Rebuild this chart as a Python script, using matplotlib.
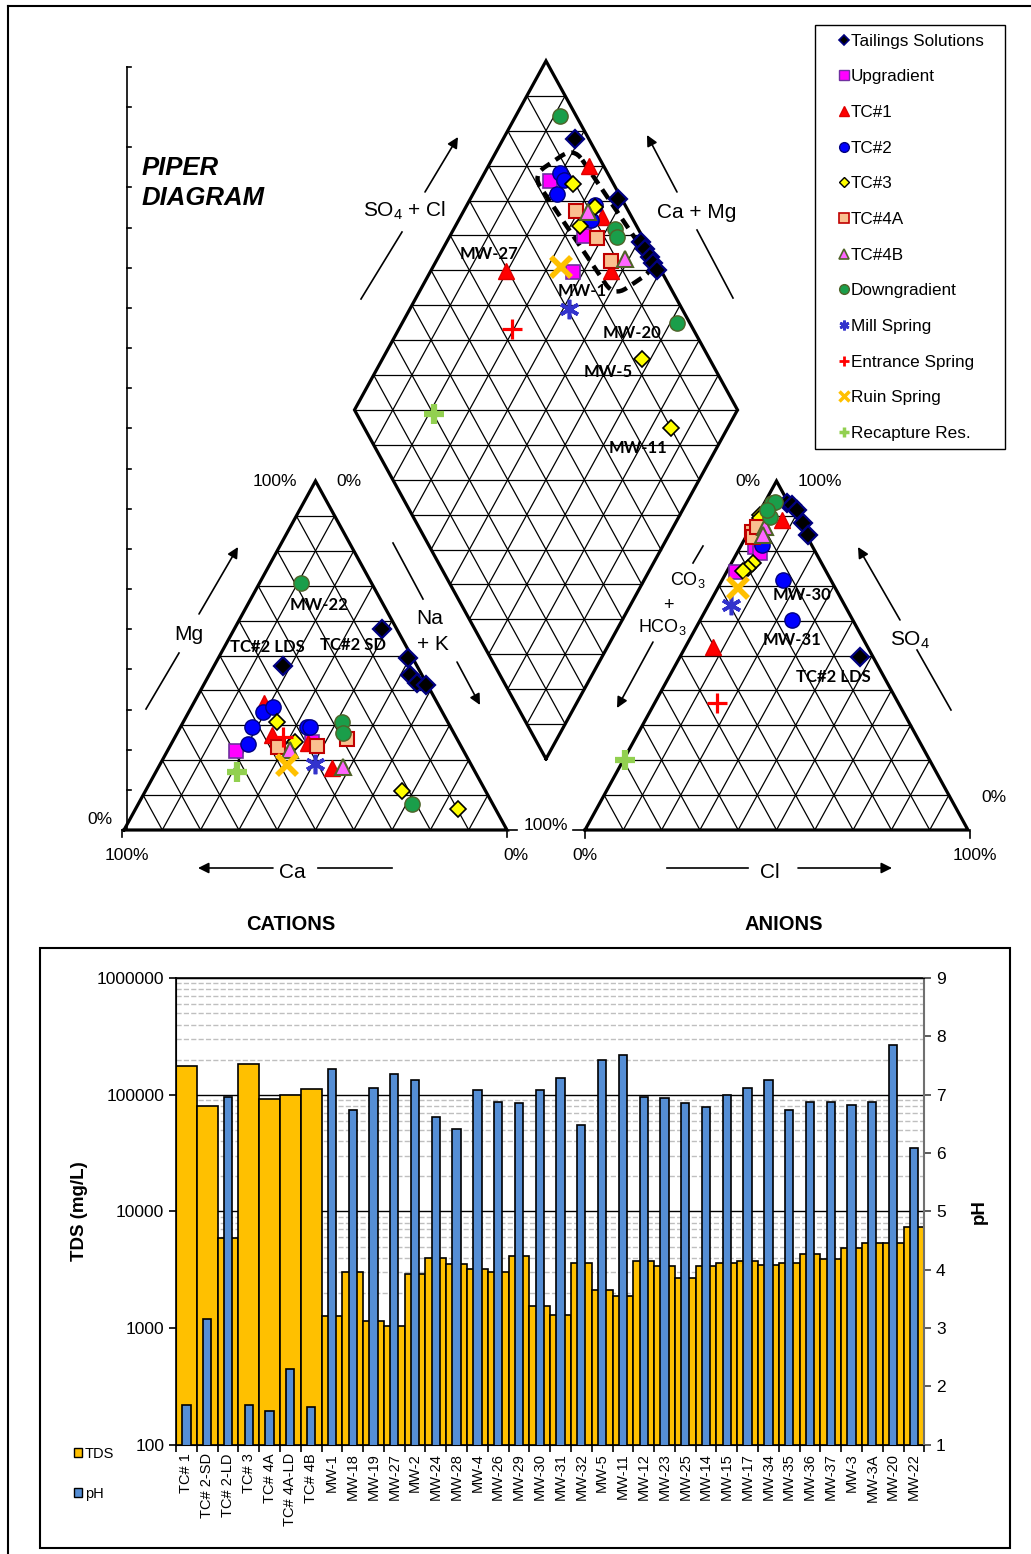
import numpy as np
import matplotlib.pyplot as plt
from matplotlib.lines import Line2D
from matplotlib.patches import FancyBboxPatch, Rectangle, Patch
from matplotlib.transforms import Affine2D
from matplotlib.ticker import FixedLocator, FuncFormatter, LogLocator, NullFormatter

plt.rcParams['font.family'] = ['Liberation Sans', 'DejaVu Sans']
plt.rcParams['mathtext.default'] = 'regular'

#%% piper data, % of meq/L
# cation triangle: (Ca, Mg), Na+K is the rest
tailings_cat = [(3.8, 57.6), (34.9, 47.0), (1.3, 49.2), (3.1, 44.4), (2.6, 42.0), (0.4, 41.5)]
upgrad_cat = [(59.3, 22.7), (38.3, 25.3)]
tc1_cat = [(45.2, 36.3), (47.8, 27.2), (39.6, 24.8), (36.8, 17.7)]
tc2_cat = [(46.7, 33.9), (43.4, 35.2), (51.9, 29.6), (55.2, 24.6), (37.6, 29.4), (36.7, 29.4)]
tc3_cat = [(44.6, 31.0), (42.7, 25.3), (21.8, 11.3), (9.8, 5.9)]
tc4a_cat = [(47.8, 23.9), (37.6, 24.1), (28.8, 26.0)]
tc4b_cat = [(45.2, 22.9), (33.7, 18.0)]
down_cat = [(18.5, 70.7), (27.7, 31.0), (28.9, 27.7), (21.2, 7.4)]
mill_cat = [(40.7, 18.9)]
entrance_cat = [(45.1, 26.7)]
ruin_cat = [(48.2, 18.6)]
recapture_cat = [(62.2, 16.7)]

# anion triangle: (Cl, SO4), CO3+HCO3 is the rest
tailings_an = [(5.9, 93.7), (7.4, 93.1), (9.4, 91.7), (13.0, 87.9), (16.0, 84.5), (47.0, 49.5)]
upgrad_an = [(3.8, 81.2), (6.0, 79.3), (2.5, 73.8)]
tc1_an = [(7.0, 88.8), (7.3, 52.5)]
tc2_an = [(5.3, 81.7), (16.0, 71.6), (23.9, 60.2)]
tc3_an = [(0.5, 90.3), (1.0, 89.3), (5.7, 76.4), (5.0, 75.2), (4.2, 74.2)]
tc4a_an = [(0.8, 85.5), (1.9, 84.0), (1.5, 86.8)]
tc4b_an = [(3.5, 86.9), (4.3, 84.5)]
down_an = [(1.9, 93.6), (2.6, 94.1), (3.4, 89.8), (1.7, 91.7)]
mill_an = [(6.0, 64.5)]
entrance_an = [(16.2, 36.3)]
ruin_an = [(5.4, 69.3)]
recapture_an = [(0.4, 20.1)]

# diamond: (Ca+Mg, SO4+Cl)
tailings_dia = [(81.2, 96.3), (61.3, 99.0), (49.2, 99.0), (47.2, 99.0), (44.9, 99.0), (43.2, 99.0), (41.1, 99.0)]
upgrad_dia = [(81.7, 83.8), (65.0, 84.8), (62.6, 76.9)]
tc1_dia = [(73.7, 96.1), (63.0, 92.4), (53.0, 86.8), (80.3, 59.6)]
tc2_dia = [(80.3, 87.6), (78.0, 84.0), (78.4, 87.6), (66.6, 92.0), (65.5, 88.8)]
tc3_dia = [(75.2, 89.5), (66.4, 91.8), (67.5, 85.2), (32.2, 82.5), (14.9, 80.0)]
tc4a_dia = [(70.7, 86.3), (61.4, 87.9), (54.3, 88.5)]
tc4b_dia = [(67.5, 89.2), (51.1, 92.2)]
down_dia = [(88.4, 95.7), (58.0, 93.9), (56.1, 93.4), (28.4, 96.6)]
mill_dia = [(58.5, 70.5)]
entrance_dia = [(70.4, 52.9)]
ruin_dia = [(66.6, 74.3)]
recapture_dia = [(78.6, 20.1)]

group_names = ['Tailings Solutions', 'Upgradient', 'TC#1', 'TC#2', 'TC#3', 'TC#4A', 'TC#4B',
               'Downgradient', 'Mill Spring', 'Entrance Spring', 'Ruin Spring', 'Recapture Res.']
cat_sets = [tailings_cat, upgrad_cat, tc1_cat, tc2_cat, tc3_cat, tc4a_cat, tc4b_cat,
            down_cat, mill_cat, entrance_cat, ruin_cat, recapture_cat]
an_sets = [tailings_an, upgrad_an, tc1_an, tc2_an, tc3_an, tc4a_an, tc4b_an,
           down_an, mill_an, entrance_an, ruin_an, recapture_an]
dia_sets = [tailings_dia, upgrad_dia, tc1_dia, tc2_dia, tc3_dia, tc4a_dia, tc4b_dia,
            down_dia, mill_dia, entrance_dia, ruin_dia, recapture_dia]

#%% TDS / pH data
sites = ['TC# 1', 'TC# 2-SD', 'TC# 2-LD', 'TC# 3', 'TC# 4A', 'TC# 4A-LD', 'TC# 4B',
         'MW-1', 'MW-18', 'MW-19', 'MW-27', 'MW-2', 'MW-24', 'MW-28', 'MW-4', 'MW-26',
         'MW-29', 'MW-30', 'MW-31', 'MW-32', 'MW-5', 'MW-11', 'MW-12', 'MW-23', 'MW-25',
         'MW-14', 'MW-15', 'MW-17', 'MW-34', 'MW-35', 'MW-36', 'MW-37', 'MW-3', 'MW-3A',
         'MW-20', 'MW-22']
tds = [177000, 80700, 5950, 184000, 91600, 99000, 112000,
       1260, 3050, 1140, 1045, 2900, 4010, 3510, 3180, 3000,
       4140, 1540, 1305, 3640, 2130, 1870, 3750, 3380, 2680,
       3380, 3640, 3750, 3480, 3640, 4290, 3870, 4860, 5410,
       5410, 7280]
ph = [1.68, 3.15, 6.96, 1.68, 1.57, 2.29, 1.65,
      7.45, 6.74, 7.11, 7.36, 7.25, 6.62, 6.42, 7.08, 6.88,
      6.85, 7.08, 7.28, 6.48, 7.60, 7.68, 6.96, 6.94, 6.85,
      6.79, 7.00, 7.11, 7.25, 6.74, 6.88, 6.88, 6.82, 6.88,
      7.85, 6.08]

#%% marker styles
styles = [
    dict(marker='D', ms=9, mfc='black', mec='#000080', mew=1.6),
    dict(marker='s', ms=10.5, mfc='#FF00FF', mec='#7030A0', mew=1.2),
    dict(marker='^', ms=12, mfc='#FF0000', mec='#E00000', mew=1.0),
    dict(marker='o', ms=11, mfc='#0000FF', mec='#000080', mew=1.0),
    dict(marker='D', ms=8.5, mfc='#FFFF00', mec='black', mew=1.2),
    dict(marker='s', ms=10.5, mfc='#FAC090', mec='#C00000', mew=1.5),
    dict(marker='^', ms=12, mfc='#FF66FF', mec='#4F6228', mew=1.5),
    dict(marker='o', ms=11, mfc='#1A9E4A', mec='#4F6228', mew=1.0),
    dict(marker=(6, 2, 0), ms=14, mfc='#3333CC', mec='#3333CC', mew=2.6),
    dict(marker='+', ms=14, mfc='#FF0000', mec='#FF0000', mew=2.3),
    dict(marker='x', ms=14.5, mfc='#FFC000', mec='#FFC000', mew=4),
    dict(marker='+', ms=15, mfc='#92D050', mec='#92D050', mew=4.5),
]
legend_ms = [5.5, 6.5, 7, 7, 5.5, 6.5, 7, 7, 7, 7, 7, 7]
legend_mew = [1.2, 1.0, 1.0, 1.0, 1.0, 1.2, 1.2, 1.0, 2.0, 2.0, 2.5, 2.5]

#%% layout (figure pixels)
W, H = 1031, 1554
CAT_X0, BASE_Y = 124, 830
ANI_X0 = 585
SIDE, TALL = 383, 349
GAP = ANI_X0 - CAT_X0 - SIDE
DIA_X = CAT_X0 + SIDE + GAP / 2
DIA_Y = BASE_Y - TALL * GAP / SIDE


def cation_xy(ca, mg):
    nak = 100 - ca - mg
    return CAT_X0 + SIDE * (nak + mg / 2) / 100, BASE_Y - TALL * mg / 100


def anion_xy(cl, so4):
    return ANI_X0 + SIDE * (cl + so4 / 2) / 100, BASE_Y - TALL * so4 / 100


def diamond_xy(camg, so4cl):
    return DIA_X + SIDE / 2 * (so4cl - camg) / 100, DIA_Y - TALL * (so4cl + camg) / 100


fig = plt.figure(figsize=(W / 100, H / 100), dpi=100)
ax = fig.add_axes([0, 0, 1, 1])
ax.set_xlim(0, W)
ax.set_ylim(H, 0)
ax.axis('off')

GRID = dict(color='black', lw=0.9, zorder=1)


def seg(a, b, **kw):
    ax.plot([a[0], b[0]], [a[1], b[1]], **kw)


def tri_grid(p0, p1, p2):
    p0, p1, p2 = map(np.array, (p0, p1, p2))
    for t in np.arange(1, 10) / 10:
        seg(p0 + t * (p2 - p0), p1 + t * (p2 - p1), **GRID)
        seg(p0 + t * (p1 - p0), p2 + t * (p1 - p2), **GRID)
        seg(p1 + t * (p0 - p1), p2 + t * (p0 - p2), **GRID)
    ax.plot(*np.array([p0, p1, p2, p0]).T, color='black', lw=2.3, zorder=2,
            solid_joinstyle='miter')


tri_grid(cation_xy(100, 0), cation_xy(0, 0), cation_xy(0, 100))
tri_grid(anion_xy(0, 0), anion_xy(100, 0), anion_xy(0, 100))

B = np.array(diamond_xy(0, 0))
L = np.array(diamond_xy(100, 0))
R = np.array(diamond_xy(0, 100))
T = np.array(diamond_xy(100, 100))
for t in np.arange(1, 10) / 10:
    seg(B + t * (R - B), L + t * (R - B), **GRID)
    seg(B + t * (L - B), R + t * (L - B), **GRID)
for s in np.arange(1, 20) / 10:
    if s <= 1:
        seg(B + s * (L - B), B + s * (R - B), **GRID)
    else:
        seg(L + (s - 1) * (T - L), R + (s - 1) * (T - R), **GRID)
ax.plot(*np.array([B, L, T, R, B]).T, color='black', lw=2.3, zorder=2,
        solid_joinstyle='miter')

# dashed outline around the main cluster in the diamond
ring = FancyBboxPatch((-73, -25), 146, 50, boxstyle='round,pad=0,rounding_size=15',
                      fill=False, ec='black', lw=3.2, ls=(0, (2.5, 1.5)), zorder=4,
                      transform=Affine2D().rotate_deg(56).translate(594, 222) + ax.transData)
ax.add_patch(ring)

# sample points
for i, st in enumerate(styles):
    for pts, fn in ((cat_sets[i], cation_xy), (an_sets[i], anion_xy), (dia_sets[i], diamond_xy)):
        xy = np.array([fn(a, b) for a, b in pts])
        ax.plot(xy[:, 0], xy[:, 1], ls='none', zorder=5 + i * 0.01, **st)

# left ruler
ax.plot([127, 127], [67, BASE_Y], color='black', lw=1.2, zorder=1)
for yy in np.linspace(67, BASE_Y, 20):
    seg((127, yy), (131, yy), color='black', lw=1.2)
seg((122, BASE_Y), (517, BASE_Y), color='black', lw=1.2)
for xx in (122, 507):
    seg((xx, BASE_Y), (xx, BASE_Y + 7), color='black', lw=1.2)
seg((573, BASE_Y), (ANI_X0, BASE_Y), color='black', lw=1.2)
for xx in (ANI_X0, 970):
    seg((xx, BASE_Y), (xx, BASE_Y + 8), color='black', lw=1.2)

# axis arrows
ARW = dict(arrowstyle='-|>', color='black', lw=1.2, mutation_scale=16, shrinkA=0, shrinkB=0)
LN = dict(color='black', lw=1.2)


def arrow(tail, head):
    ax.annotate('', xy=head, xytext=tail, arrowprops=ARW)


seg((146, 709), (179, 653), **LN); arrow((199, 614), (238, 547))
seg((393, 543), (423, 599), **LN); arrow((457, 662), (480, 705))
arrow((273, 868), (198, 868)); seg((318, 868), (392, 868), **LN)
seg((667, 868), (748, 868), **LN); arrow((798, 868), (892, 868))
arrow((900, 620), (858, 547)); seg((951, 710), (917, 650), **LN)
seg((703, 546), (693, 563), **LN); arrow((653, 642), (617, 708))
arrow((425, 192), (458, 137)); seg((361, 299), (402, 232), **LN)
arrow((677, 192), (647, 135)); seg((733, 298), (697, 230), **LN)

# texts
def txt(x, y, s, size=15, **kw):
    ax.text(x, y, s, fontsize=size, ha='center', va='center', **kw)


ax.text(142, 168, 'PIPER', fontsize=18.5, fontweight='bold', fontstyle='italic', va='center')
ax.text(142, 198, 'DIAGRAM', fontsize=18.5, fontweight='bold', fontstyle='italic', va='center')
txt(405, 211, 'SO$_4$ + Cl')
txt(697, 212, 'Ca + Mg')
txt(189, 634, 'Mg')
txt(430, 619, 'Na')
txt(433, 644, '+ K')
txt(292, 872, 'Ca')
txt(770, 872, 'Cl')
txt(910, 640, 'SO$_4$')
txt(688, 580, 'CO$_3$', 13)
txt(668, 605, '+', 13)
txt(662, 627, 'HCO$_3$', 13)
for x, y, s in [(275, 481, '100%'), (349, 481, '0%'), (100, 820, '0%'), (127, 855, '100%'),
                (516, 855, '0%'), (546, 826, '100%'), (748, 481, '0%'), (820, 481, '100%'),
                (994, 797, '0%'), (975, 855, '100%'), (585, 855, '0%')]:
    txt(x, y, s, 12.5)
txt(291, 925, 'CATIONS', 14.5, fontweight='bold')
txt(784, 925, 'ANIONS', 14.5, fontweight='bold')

LBL = dict(family=['Lato', 'DejaVu Sans'], fontweight='bold', zorder=6)
for x, y, s in [(319, 605, 'MW-22'), (267, 647, 'TC#2 LDS'), (353, 645, 'TC#2 SD'),
                (802, 595, 'MW-30'), (792, 640, 'MW-31'), (833, 677, 'TC#2 LDS'),
                (489, 254, 'MW-27'), (582, 291, 'MW-1'), (632, 333, 'MW-20'),
                (608, 372, 'MW-5'), (638, 448, 'MW-11')]:
    txt(x, y, s, 12, **LBL)

handles = [Line2D([], [], ls='none', **{**st, 'ms': m, 'mew': w})
           for st, m, w in zip(styles, legend_ms, legend_mew)]
leg = ax.legend(handles, group_names, loc='upper left',
                bbox_to_anchor=(815 / W, 1 - 25 / H - 0.01, 190 / W, 0.01), mode='expand',
                fontsize=12.3, frameon=True, fancybox=False, framealpha=1, edgecolor='black',
                borderpad=0.5, labelspacing=1.21, handlelength=2.4, handletextpad=-0.8,
                borderaxespad=0)
leg.get_frame().set_linewidth(1.0)

# frame lines
seg((8, 6), (8, H), color='black', lw=1.5)
seg((8, 6), (W, 6), color='black', lw=1.5)
ax.add_patch(Rectangle((40, 948), 970, 600, fill=False, ec='black', lw=1.5, zorder=1))

#%% TDS and pH bars
bx = fig.add_axes([176 / W, 1 - 1444.7 / H, 748.3 / W, 466.6 / H])
x = np.arange(len(sites))
bx.set_yscale('log')
bx.bar(x, tds, width=1.0, color='#FFC000', edgecolor='black', lw=1.2, zorder=2)
bx.set_xlim(-0.5, len(sites) - 0.5)
bx.set_ylim(100, 1e6)
bx.yaxis.set_major_locator(FixedLocator([1e2, 1e3, 1e4, 1e5, 1e6]))
bx.yaxis.set_major_formatter(FuncFormatter(lambda v, p: f'{v:.0f}'))
bx.yaxis.set_minor_locator(LogLocator(subs=np.arange(2, 10)))
bx.yaxis.set_minor_formatter(NullFormatter())
bx.tick_params(axis='y', which='minor', length=0)
bx.tick_params(axis='y', which='major', length=5, width=1.2, labelsize=12.5)
bx.grid(axis='y', which='major', color='black', lw=1.0)
bx.grid(axis='y', which='minor', color='#BFBFBF', ls='--', lw=1.0)
bx.set_axisbelow(True)
bx.set_xticks(x)
bx.set_xticklabels(sites, rotation=90, fontsize=10.5)
bx.set_xticks(np.arange(-0.5, len(sites)), minor=True)
bx.tick_params(axis='x', which='major', length=0, pad=6)
bx.tick_params(axis='x', which='minor', length=5, width=1.2)
bx.set_ylabel('TDS (mg/L)', fontsize=13.5, fontweight='bold', labelpad=6)
for sp in bx.spines.values():
    sp.set_linewidth(1.2)

px = bx.twinx()
px.bar(x, ph, width=0.4, color='#558ED5', edgecolor='black', lw=1.2, zorder=2)
px.set_ylim(1, 9)
px.set_yticks(range(1, 10))
px.tick_params(axis='y', length=5, width=1.2, labelsize=12.5, color='#404040')
px.spines['right'].set_color('#707070')
px.spines['right'].set_linewidth(1.5)
px.set_ylabel('pH', fontsize=13.5, fontweight='bold', rotation=90, labelpad=18)

fig.legend([Patch(fc='#FFC000', ec='black'), Patch(fc='#558ED5', ec='black')], ['TDS', 'pH'],
           loc='upper left', bbox_to_anchor=(74 / W, 1 - 1447 / H), frameon=False,
           fontsize=10.5, handlelength=0.55, handleheight=0.6, handletextpad=0.2,
           labelspacing=1.75, borderpad=0, borderaxespad=0)

fig.savefig('out.png', dpi=100)
